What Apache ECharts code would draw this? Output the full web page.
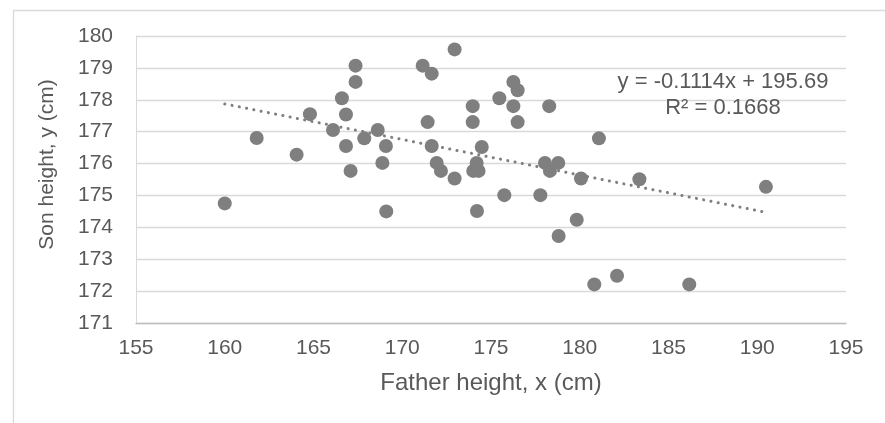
<!DOCTYPE html>
<html>
<head>
<meta charset="utf-8">
<script src="https://cdn.jsdelivr.net/npm/echarts@6/dist/echarts.min.js"></script>
<style>
html,body{margin:0;padding:0;background:#fff;}
#chart{width:885px;height:423px;}
</style>
</head>
<body>
<div id="chart"></div>
<script>
// Father height (x) and son height (y), cm
var fatherX = [160.0, 161.8, 164.05, 164.8, 166.1, 166.6, 166.83, 166.83, 167.09, 167.37,
  167.37, 167.86, 168.62, 169.08, 168.88, 169.1, 172.95, 171.15, 171.66, 171.43,
  171.66, 171.94, 172.18, 172.95, 173.97, 173.97, 174.48, 174.19, 174.0, 174.3,
  175.47, 176.26, 176.5, 176.26, 176.5, 178.28, 178.04, 178.79, 178.32, 180.07,
  181.08, 174.21, 175.75, 177.78, 179.83, 178.81, 180.82, 182.1, 183.36, 190.49, 186.17];
var sonY = [174.75, 176.8, 176.28, 177.55, 177.05, 178.05, 177.54, 176.55, 175.77, 179.07,
  178.56, 176.79, 177.05, 176.55, 176.02, 174.5, 179.58, 179.07, 178.82, 177.30,
  176.55, 176.02, 175.77, 175.53, 177.80, 177.30, 176.52, 176.02, 175.77, 175.77,
  178.05, 178.56, 178.30, 177.80, 177.30, 177.80, 176.02, 176.02, 175.77, 175.53,
  176.79, 174.51, 175.01, 175.01, 174.24, 173.73, 172.21, 172.48, 175.51, 175.27, 172.21];
// Linear trendline end points (as drawn)
var trendX = [160.0, 190.5];
var trendY = [177.87, 174.47];
var equationText = ['y = -0.1114x + 195.69', 'R\u00B2 = 0.1668'];
var xTitle = 'Father height, x (cm)';
var yTitle = 'Son height, y (cm)';

var FONT = "'Liberation Sans', Arial, sans-serif";
var scatterData = fatherX.map(function (x, i) { return [x, sonY[i]]; });
var trendData = trendX.map(function (x, i) { return [x, trendY[i]]; });

var chart = echarts.init(document.getElementById('chart'), null, {renderer: 'canvas'});
chart.setOption({
  backgroundColor: '#ffffff',
  animation: false,
  grid: {left: 136, right: 39, top: 36, bottom: 100, containLabel: false},
  xAxis: {
    type: 'value', min: 155, max: 195, interval: 5,
    name: xTitle, nameLocation: 'middle', nameGap: 48,
    nameTextStyle: {color: '#595959', fontSize: 24, fontFamily: FONT},
    axisLine: {show: true, onZero: false, lineStyle: {color: '#bfbfbf', width: 1.3}},
    axisTick: {show: false},
    axisLabel: {color: '#595959', fontSize: 21, fontFamily: FONT, margin: 15},
    splitLine: {show: false}
  },
  yAxis: {
    type: 'value', min: 171, max: 180, interval: 1,
    name: yTitle, nameLocation: 'middle', nameGap: 78, nameRotate: 90,
    nameTextStyle: {color: '#595959', fontSize: 21, fontFamily: FONT, padding: [0, 0, 0, 30]},
    axisLine: {show: true, onZero: false, lineStyle: {color: '#d9d9d9', width: 1}},
    axisTick: {show: false},
    axisLabel: {color: '#595959', fontSize: 21, fontFamily: FONT, margin: 23},
    splitLine: {show: true, lineStyle: {color: '#d9d9d9', width: 1.3}}
  },
  series: [
    {
      type: 'scatter', data: scatterData, symbol: 'circle', symbolSize: 14,
      itemStyle: {color: '#7f7f7f', opacity: 1}, z: 2
    },
    {
      type: 'line', data: trendData, showSymbol: false, symbol: 'none',
      lineStyle: {color: '#7f7f7f', width: 3, type: [0.1, 7.3], cap: 'round'},
      z: 3, silent: true
    }
  ],
  graphic: [
    {
      type: 'rect', left: 11, top: 8, z: -10, silent: true,
      shape: {width: 900, height: 500},
      style: {fill: 'none', stroke: '#d9d9d9', lineWidth: 1.3}
    },
    {
      type: 'text', x: 723, y: 95, z: 10,
      style: {
        text: equationText.join('\n'), fill: '#595959',
        font: '22px ' + FONT, textAlign: 'center', textVerticalAlign: 'middle', lineHeight: 26.5
      }
    }
  ]
});
</script>
</body>
</html>
